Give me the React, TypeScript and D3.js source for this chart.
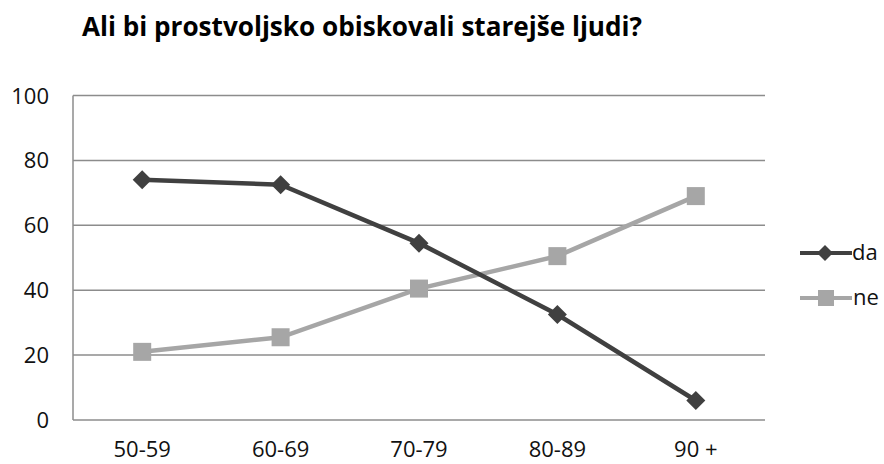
import React from "react";
import * as d3 from "d3";

const categories = ["50-59", "60-69", "70-79", "80-89", "90 +"];
const daValues = [74, 72.5, 54.5, 32.5, 6];
const neValues = [21, 25.5, 40.5, 50.5, 69];
const yTicks = [0, 20, 40, 60, 80, 100];
const title = "Ali bi prostvoljsko obiskovali starejše ljudi?";

const W = 884, H = 464;
const m = { left: 73, right: 765, top: 95.5, bottom: 420 };
const DA = "#404040";
const NE = "#a6a6a6";
const FONT = "'Open Sans', 'DejaVu Sans', sans-serif";

export default function App() {
  const x = d3.scaleBand<string>().domain(categories).range([m.left, m.right]);
  const y = d3.scaleLinear().domain([0, 100]).range([m.bottom, m.top]);
  const cx = (c: string) => (x(c) as number) + x.bandwidth() / 2;
  const line = d3.line<number>().x((_, i) => cx(categories[i])).y((v) => y(v));
  const diamond = (px: number, py: number, r: number) =>
    `M${px},${py - r}L${px + r},${py}L${px},${py + r}L${px - r},${py}Z`;

  return (
    <svg width={W} height={H} style={{ position: "absolute", left: 0, top: 0, background: "#fff" }}>
      <text x={82} y={36} fontFamily={FONT} fontWeight="bold" fontSize={26} fill="#000" textLength={560} lengthAdjust="spacingAndGlyphs">{title}</text>
      {yTicks.map((t) => (
        <g key={t}>
          <line x1={m.left} x2={m.right} y1={y(t)} y2={y(t)} stroke="#8c8c8c" strokeWidth={1.5} />
          <text x={49} y={y(t) + 8} textAnchor="end" fontFamily={FONT} fontSize={22} fill="#111">{t}</text>
        </g>
      ))}
      <line x1={m.left} x2={m.left} y1={m.top} y2={m.bottom} stroke="#8c8c8c" strokeWidth={1.5} />
      {categories.map((c) => (
        <text key={c} x={cx(c)} y={457} textAnchor="middle" fontFamily={FONT} fontSize={22} fill="#111">{c}</text>
      ))}
      <path d={line(neValues) || ""} fill="none" stroke={NE} strokeWidth={4.5} />
      <path d={line(daValues) || ""} fill="none" stroke={DA} strokeWidth={4.5} />
      {neValues.map((v, i) => (
        <rect key={i} x={cx(categories[i]) - 9} y={y(v) - 9} width={18} height={18} fill={NE} />
      ))}
      {daValues.map((v, i) => (
        <path key={i} d={diamond(cx(categories[i]), y(v), 9.5)} fill={DA} />
      ))}
      <g>
        <line x1={800} x2={852} y1={253} y2={253} stroke={DA} strokeWidth={4} />
        <path d={diamond(825, 253, 8)} fill={DA} />
        <text x={852} y={260} fontFamily={FONT} fontSize={22} fill="#111">da</text>
        <line x1={800} x2={852} y1={298} y2={298} stroke={NE} strokeWidth={4} />
        <rect x={818} y={290} width={16} height={16} fill={NE} />
        <text x={853} y={305} fontFamily={FONT} fontSize={22} fill="#111">ne</text>
      </g>
    </svg>
  );
}
